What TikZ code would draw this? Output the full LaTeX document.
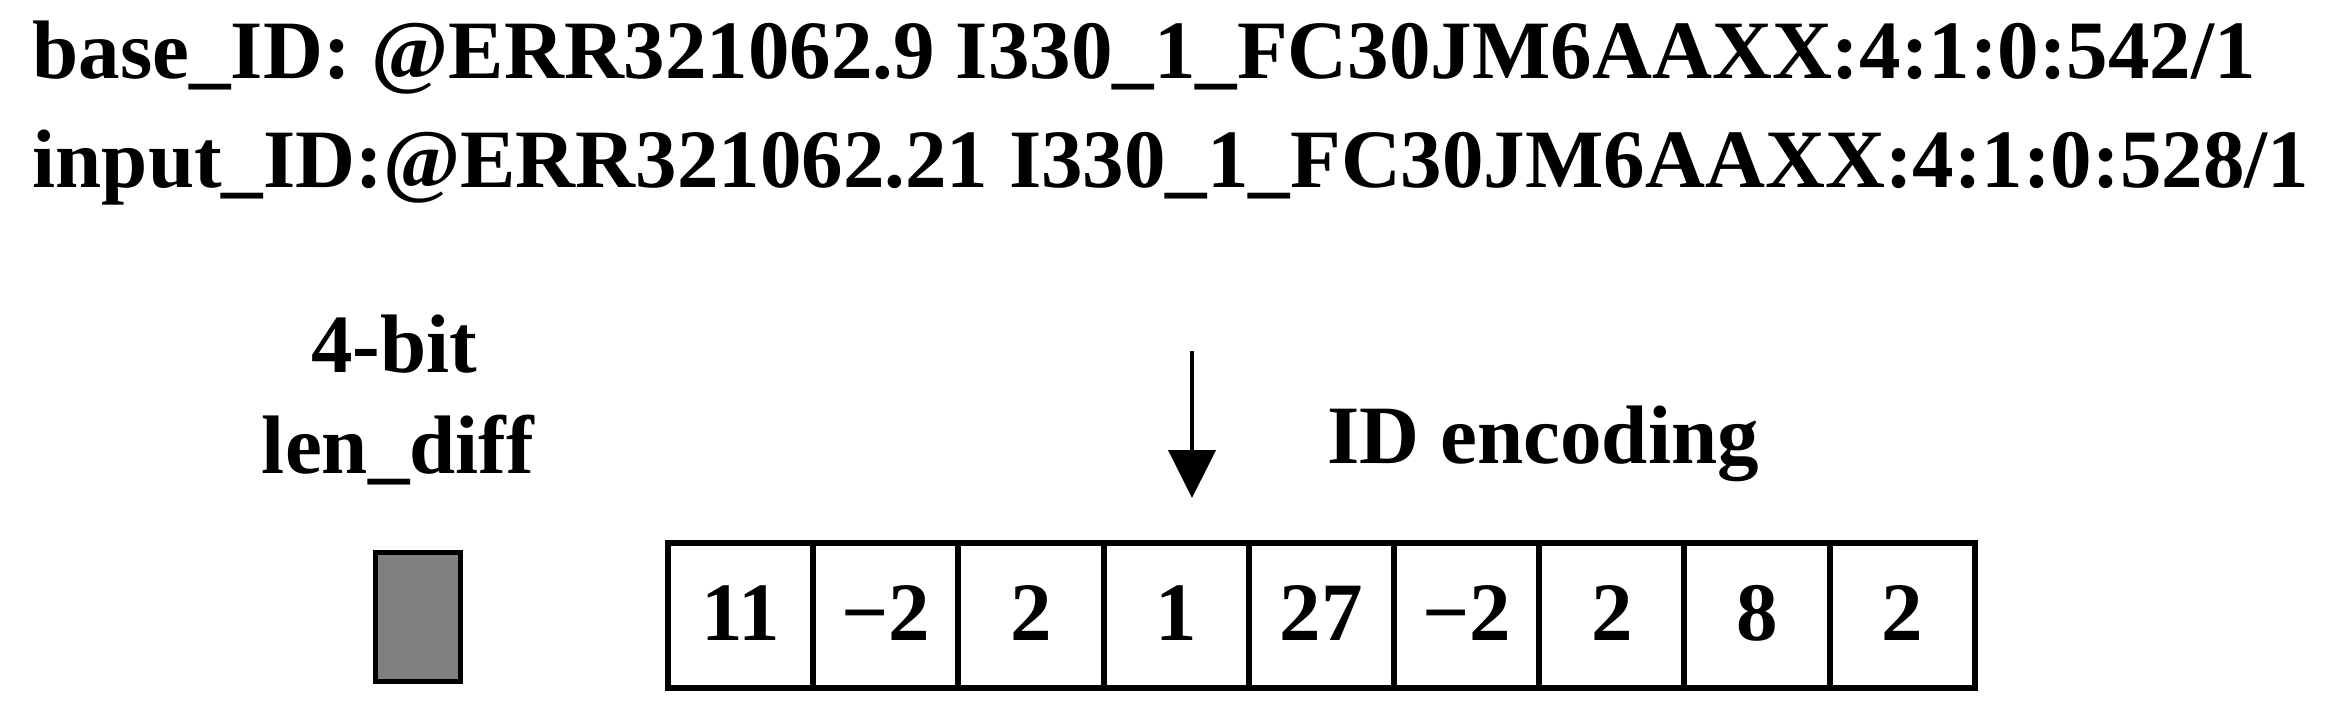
\documentclass[tikz,border=0pt]{standalone}
\usepackage{fontspec}
\setmainfont{Liberation Serif}
\usetikzlibrary{arrows.meta}
\begin{document}
\begin{tikzpicture}[x=0.3pt,y=-0.3pt,
  txt/.style={inner sep=0pt,font=\fontsize{24.9pt}{24.9pt}\selectfont\bfseries},
  cell/.style={draw,line width=1.8pt,minimum width=43.56pt,minimum height=43.35pt,inner sep=0pt,
    text height=17pt,text depth=2pt,font=\fontsize{24.9pt}{24.9pt}\selectfont\bfseries},
  lenbox/.style={draw,line width=1.5pt,fill={rgb,255:red,128;green,128;blue,128},
    minimum width=25.5pt,minimum height=38.7pt,inner sep=0pt},
  pointer/.style={line width=1.2pt,-{Triangle[width=14.1pt,length=14.4pt]}}]
\useasboundingbox (0,0) rectangle (2343,715);
\node[txt,anchor=base west] (base) at (32,79) {base\_ID: @ERR321062.9 I330\_1\_FC30JM6AAXX:4:1:0:542/1};
\node[txt,anchor=base west] (input) at (32,187) {input\_ID:@ERR321062.21 I330\_1\_FC30JM6AAXX:4:1:0:528/1};
\node[txt,anchor=base] (fourbit) at (394,372) {4-bit};
\node[txt,anchor=base] (lendiff) at (398,473) {len\_diff};
\node[txt,anchor=base west] (idenc) at (1327,463) {ID encoding};
\node[lenbox] (len) at (418,617) {};
\foreach \v [count=\i] in {11,−2,2,1,27,−2,2,8,2}{
  \node[cell] (c\i) at ({668+145.2*(\i-0.5)},615.25) {\v};
}
\coordinate (atop) at (1192,351);
\coordinate (atip) at (1192,498);
\draw[pointer] (atop) -- (atip);
\end{tikzpicture}
\end{document}
